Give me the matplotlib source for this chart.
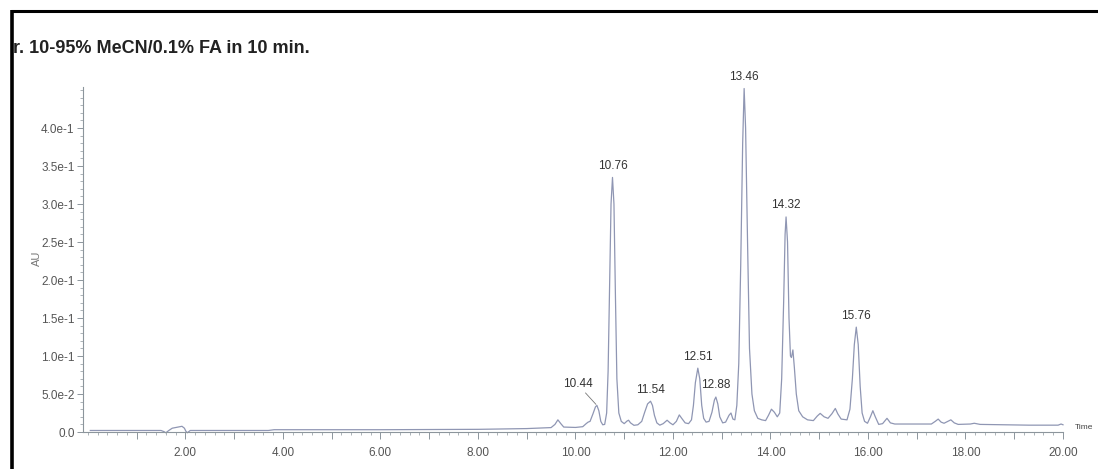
import matplotlib
matplotlib.use("Agg")
import matplotlib.pyplot as plt
from matplotlib.lines import Line2D
from matplotlib.ticker import FixedLocator, MultipleLocator

plt.rcParams["font.family"] = ["Liberation Sans", "DejaVu Sans"]

# UV trace (retention time in min, absorbance in AU)
time_min = [
    0.05, 1.50, 1.56, 1.60, 1.66, 1.73, 1.86, 1.93, 1.98, 2.01, 2.04, 2.10, 2.20,
    3.70, 3.82, 6.00, 8.00, 9.00, 9.50, 9.58, 9.64, 9.70, 9.76, 10.00, 10.15,
    10.22, 10.26, 10.30, 10.36, 10.41, 10.44, 10.48, 10.52, 10.56, 10.60,
    10.64, 10.67, 10.70, 10.73, 10.76, 10.79, 10.82, 10.85, 10.89, 10.94,
    11.00, 11.06, 11.09, 11.13, 11.20, 11.28, 11.36, 11.42, 11.48, 11.54,
    11.58, 11.62, 11.67, 11.73, 11.80, 11.88, 11.94, 12.00, 12.07, 12.13,
    12.18, 12.25, 12.32, 12.38, 12.42, 12.46, 12.51, 12.55, 12.59, 12.63,
    12.68, 12.74, 12.80, 12.85, 12.88, 12.92, 12.96, 13.02, 13.08, 13.15,
    13.19, 13.23, 13.27, 13.31, 13.35, 13.39, 13.43, 13.46, 13.49, 13.53,
    13.57, 13.62, 13.67, 13.74, 13.82, 13.90, 13.96, 14.02, 14.08, 14.14,
    14.19, 14.23, 14.27, 14.30, 14.32, 14.35, 14.38, 14.41, 14.43, 14.46,
    14.49, 14.53, 14.58, 14.66, 14.76, 14.88, 14.96, 15.02, 15.10, 15.18,
    15.26, 15.33, 15.38, 15.45, 15.57, 15.63, 15.68, 15.72, 15.76, 15.80,
    15.84, 15.88, 15.93, 15.99, 16.05, 16.10, 16.15, 16.22, 16.30, 16.39,
    16.46, 16.55, 17.30, 17.38, 17.44, 17.50, 17.56, 17.64, 17.70, 17.77,
    17.85, 18.10, 18.18, 18.30, 19.30, 19.90, 19.96, 20.00,
]
absorbance = [
    0.0020, 0.0020, 0.0005, -0.0010, 0.0020, 0.0050, 0.0066, 0.0075, 0.0050, 0.0010, -0.0010, 0.0020, 0.0020,
    0.0020, 0.0030, 0.0030, 0.0035, 0.0045, 0.0058, 0.0100, 0.0160, 0.0110, 0.0065, 0.0060, 0.0070,
    0.0110, 0.0130, 0.0140, 0.0240, 0.0330, 0.0350, 0.0280, 0.0140, 0.0095, 0.0100,
    0.0250, 0.0800, 0.1900, 0.3000, 0.3350, 0.3000, 0.1800, 0.0700, 0.0250, 0.0140,
    0.0110, 0.0145, 0.0155, 0.0120, 0.0088, 0.0095, 0.0140, 0.0260, 0.0370, 0.0405,
    0.0350, 0.0220, 0.0120, 0.0090, 0.0110, 0.0155, 0.0120, 0.0095, 0.0140, 0.0225,
    0.0180, 0.0120, 0.0110, 0.0160, 0.0350, 0.0650, 0.0840, 0.0700, 0.0350, 0.0180,
    0.0130, 0.0140, 0.0260, 0.0420, 0.0460, 0.0370, 0.0200, 0.0120, 0.0130, 0.0220,
    0.0250, 0.0170, 0.0160, 0.0350, 0.0900, 0.2200, 0.3800, 0.4520, 0.4000, 0.2500,
    0.1100, 0.0500, 0.0280, 0.0180, 0.0160, 0.0150, 0.0220, 0.0300, 0.0260, 0.0200,
    0.0250, 0.0700, 0.1700, 0.2600, 0.2830, 0.2500, 0.1500, 0.1000, 0.0980, 0.1080,
    0.0850, 0.0500, 0.0280, 0.0200, 0.0160, 0.0150, 0.0210, 0.0245, 0.0200, 0.0180,
    0.0240, 0.0310, 0.0240, 0.0170, 0.0160, 0.0300, 0.0700, 0.1150, 0.1380, 0.1150,
    0.0600, 0.0250, 0.0140, 0.0115, 0.0200, 0.0280, 0.0200, 0.0100, 0.0110, 0.0180,
    0.0120, 0.0105, 0.0105, 0.0140, 0.0170, 0.0130, 0.0115, 0.0140, 0.0160, 0.0120,
    0.0100, 0.0105, 0.0115, 0.0100, 0.0090, 0.0090, 0.0105, 0.0095,
]

# Labelled peaks: retention time and apex absorbance
peak_rt = [10.44, 10.76, 11.54, 12.51, 12.88, 13.46, 14.32, 15.76]
peak_au = [0.0350, 0.3350, 0.0405, 0.0840, 0.0460, 0.4520, 0.2830, 0.1380]
peak_text = ["10.44", "10.76", "11.54", "12.51", "12.88", "13.46", "14.32", "15.76"]

ytick_values = [0.0, 0.05, 0.10, 0.15, 0.20, 0.25, 0.30, 0.35, 0.40]
ytick_labels = ["0.0", "5.0e-2", "1.0e-1", "1.5e-1", "2.0e-1", "2.5e-1",
                "3.0e-1", "3.5e-1", "4.0e-1"]
xtick_values = list(range(1, 21))
xtick_labels = [f"{v:.2f}" if v % 2 == 0 else "" for v in xtick_values]

title_text = "r. 10-95% MeCN/0.1% FA in 10 min."

W, H = 1098, 469
fig = plt.figure(figsize=(W / 100, H / 100), dpi=100)
fig.patch.set_facecolor("white")

ax = fig.add_axes([83 / W, 37 / H, 980 / W, 345 / H])
trace_color = "#8f96b3"
axis_color = "#8c959c"
text_color = "#555555"

ax.plot(time_min, absorbance, color=trace_color, lw=0.9, clip_on=False)

ax.set_xlim(-0.1, 20.0)
ax.set_ylim(0.0, 0.454)

for side in ("top", "right"):
    ax.spines[side].set_visible(False)
for side in ("left", "bottom"):
    ax.spines[side].set_color(axis_color)
    ax.spines[side].set_linewidth(0.8)

ax.yaxis.set_major_locator(FixedLocator(ytick_values))
ax.set_yticklabels(ytick_labels)
ax.yaxis.set_minor_locator(MultipleLocator(0.01))
ax.xaxis.set_major_locator(FixedLocator(xtick_values))
ax.set_xticklabels(xtick_labels)
ax.xaxis.set_minor_locator(MultipleLocator(0.2))

ax.tick_params(axis="y", which="major", length=4, width=0.7, color=axis_color,
               labelsize=8.5, labelcolor=text_color, pad=2)
ax.tick_params(axis="y", which="minor", length=2, width=0.5, color=axis_color)
ax.tick_params(axis="x", which="major", length=5, width=0.7, color=axis_color,
               labelsize=8.5, labelcolor=text_color, pad=6)
ax.tick_params(axis="x", which="minor", length=2.5, width=0.5, color=axis_color)

ax.set_ylabel("AU", fontsize=8, color="#777777")
ax.yaxis.set_label_coords(-0.042, 0.504)
ax.text(1.012, 0.013, "Time", transform=ax.transAxes, fontsize=6,
        color="#444444", ha="left", va="center", clip_on=False)

# Peak retention-time labels
for rt, au, txt in zip(peak_rt, peak_au, peak_text):
    if txt == "10.44":
        ax.annotate(txt, xy=(rt, au), xytext=(-14, 11), textcoords="offset points",
                    ha="center", va="bottom", fontsize=8.5, color="#333333",
                    arrowprops=dict(arrowstyle="-", color="#777777", lw=0.6,
                                    shrinkA=0, shrinkB=1))
    else:
        ax.annotate(txt, xy=(rt, au), xytext=(0, 4), textcoords="offset points",
                    ha="center", va="bottom", fontsize=8.5, color="#333333")

fig.text(13 / W, 1 - 53 / H, title_text, fontsize=13, fontweight="bold",
         color="#222222", ha="left", va="baseline")

# Frame edges along the left and top of the page
fig.add_artist(Line2D([12 / W, 12 / W], [0, 1 - 10 / H], transform=fig.transFigure,
                      color="black", lw=2.6, solid_capstyle="butt"))
fig.add_artist(Line2D([10.5 / W, 1], [1 - 11 / H, 1 - 11 / H], transform=fig.transFigure,
                      color="black", lw=2.2, solid_capstyle="butt"))

fig.savefig("out.png", dpi=100, facecolor=fig.get_facecolor())
